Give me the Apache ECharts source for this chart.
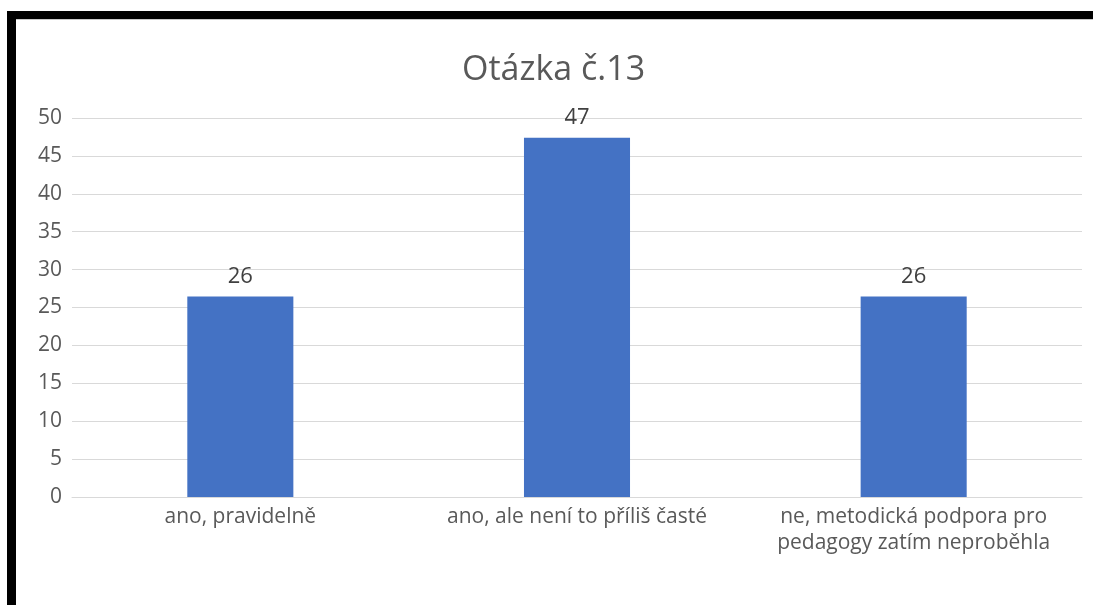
<!DOCTYPE html>
<html>
<head>
<meta charset="utf-8">
<script src="https://cdn.jsdelivr.net/npm/echarts@6/dist/echarts.min.js"></script>
<style>
html,body{margin:0;padding:0;background:#fff;}
#chart{width:1093px;height:605px;}
</style>
</head>
<body>
<div id="chart"></div>
<script>
const titleText = 'Otázka č.13';
const categories = ['ano, pravidelně', 'ano, ale není to příliš časté', 'ne, metodická podpora pro pedagogy zatím neproběhla'];
const values = [26.45, 47.4, 26.45];
const yMin = 0, yMax = 50, yStep = 5;

const FONT = 'Open Sans';
const LABEL_SIZE = 21;
const WRAP_WIDTH = 300;
const ctx = document.createElement('canvas').getContext('2d');
ctx.font = LABEL_SIZE + 'px "' + FONT + '"';
function wrap(text) {
  const words = text.split(' ');
  const lines = [];
  let cur = '';
  for (const w of words) {
    const test = cur ? cur + ' ' + w : w;
    if (cur && ctx.measureText(test).width > WRAP_WIDTH) { lines.push(cur); cur = w; }
    else cur = test;
  }
  if (cur) lines.push(cur);
  return lines.join('\n');
}

const chart = echarts.init(document.getElementById('chart'), null, {renderer: 'canvas'});
chart.setOption({
  backgroundColor: '#ffffff',
  animation: false,
  title: {
    text: titleText,
    left: 457,
    top: 48,
    textStyle: {fontFamily: FONT, fontSize: 34, fontWeight: 'normal', color: '#595959'}
  },
  grid: {left: 72, right: 11, top: 118, bottom: 108, containLabel: false},
  xAxis: {
    type: 'category',
    data: categories,
    axisLine: {show: true, lineStyle: {color: '#D9D9D9', width: 1}},
    axisTick: {show: false},
    axisLabel: {
      interval: 0, margin: 7, fontFamily: FONT, fontSize: LABEL_SIZE, color: '#595959',
      lineHeight: 26, formatter: v => wrap(v)
    }
  },
  yAxis: {
    type: 'value',
    min: yMin, max: yMax, interval: yStep,
    axisLine: {show: false},
    axisTick: {show: false},
    splitLine: {lineStyle: {color: '#D9D9D9', width: 1}},
    axisLabel: {fontFamily: FONT, fontSize: 21, color: '#595959', margin: 10}
  },
  series: [{
    type: 'bar',
    data: values,
    barWidth: '31.5%',
    itemStyle: {color: '#4472C4'},
    label: {
      show: true, position: 'top', distance: 9,
      fontFamily: FONT, fontSize: 22, color: '#404040',
      formatter: p => Math.round(p.value)
    }
  }],
  graphic: [
    {type: 'rect', shape: {x: 7, y: 11, width: 1086, height: 8}, style: {fill: '#000'}},
    {type: 'rect', shape: {x: 7, y: 11, width: 9, height: 594}, style: {fill: '#000'}},
    {type: 'rect', shape: {x: 16, y: 19, width: 1077, height: 1}, style: {fill: '#C8C8C8'}}
  ]
});
</script>
</body>
</html>
